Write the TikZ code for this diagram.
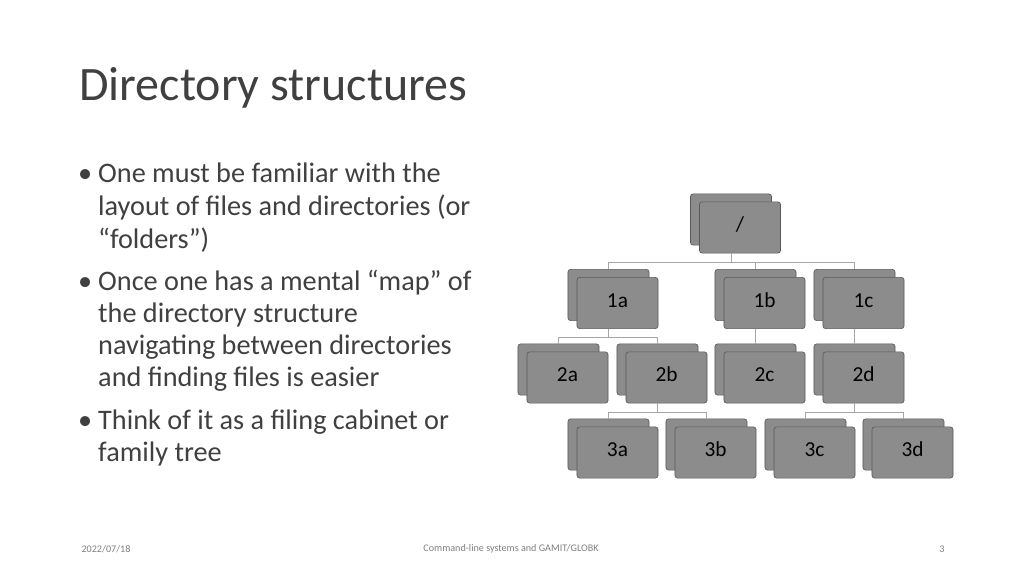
\documentclass[tikz,border=0pt]{standalone}
\usepackage{fontspec}
\setmainfont{Carlito}
\definecolor{boxFill}{rgb}{0.55,0.55,0.55}
\definecolor{boxLine}{rgb}{0.35,0.35,0.35}
\definecolor{textColor}{rgb}{0.25,0.25,0.25}
\tikzset{
  folder/.style={draw=boxLine,fill=boxFill,rounded corners=2.5pt,line width=0.6pt,
    minimum width=76pt,minimum height=48pt,inner sep=0pt,text height=1.6ex,text depth=0pt,
    font=\fontsize{20}{22}\selectfont},
  link/.style={draw=gray!70,line width=0.6pt},
  line/.style={anchor=base west,inner sep=0pt,text=textColor,font=\fontsize{26.5}{31}\selectfont},
  footer/.style={text=gray,font=\fontsize{9.5}{10}\selectfont}
}
\newcommand{\folderbox}[4]{%
  \node[folder] (#1-b) at (#2-9,#3-8) {};
  \node[folder] (#1) at (#2,#3) {#4};}
\begin{document}
\begin{tikzpicture}[x=0.9375pt,y=-0.9375pt]
\path[use as bounding box,fill=white] (0,0) rectangle (1024,576);

% title and bullets
\node[anchor=base west,inner sep=0pt,text=textColor,font=\fontsize{45}{48}\selectfont] (title) at (79,101) {Directory structures};
\foreach \n/\y in {1/182,2/290,3/429}
  \node[line] (dot\n) at (78,\y) {•};
\foreach \n/\y/\t in {1/182/One must be familiar with the,
  2/215/layout of files and directories (or,
  3/248/“folders”),
  4/290/Once one has a mental “map” of,
  5/322/the directory structure,,
  6/354/navigating between directories,
  7/386/and finding files is easier,
  8/429/Think of it as a filing cabinet or,
  9/461/family tree}
  \node[line] (text\n) at (98,\y) {\t};

% footer
\node[footer] (date) at (106,549) {2022/07/18};
\node[footer] (foot) at (511,549) {Command-line systems and GAMIT/GLOBK};
\node[footer] (page) at (942,549) {3};

% bus levels
\coordinate (bus0) at (0,262);
\coordinate (bus1) at (0,337);
\coordinate (bus2) at (0,412);

\folderbox{root}{740}{227.5}{/}
\folderbox{1a}{617.5}{303}{1a}
\folderbox{1b}{764.5}{303}{1b}
\folderbox{1c}{863.5}{303}{1c}
\folderbox{2a}{567.5}{377.5}{2a}
\folderbox{2b}{666.5}{377.5}{2b}
\folderbox{2c}{764.5}{377.5}{2c}
\folderbox{2d}{863.5}{377.5}{2d}
\folderbox{3a}{617.5}{452.5}{3a}
\folderbox{3b}{715.5}{452.5}{3b}
\folderbox{3c}{814.5}{452.5}{3c}
\folderbox{3d}{912.5}{452.5}{3d}

\foreach \p/\c/\b in {root/1a/bus0,root/1b/bus0,root/1c/bus0,
  1a/2a/bus1,1a/2b/bus1,1b/2c/bus1,1c/2d/bus1,
  2b/3a/bus2,2b/3b/bus2,2d/3c/bus2,2d/3d/bus2}
  \draw[link] (\p-b |- \p.south) -- (\p-b |- \b) -| (\c-b.north);
\end{tikzpicture}
\end{document}
